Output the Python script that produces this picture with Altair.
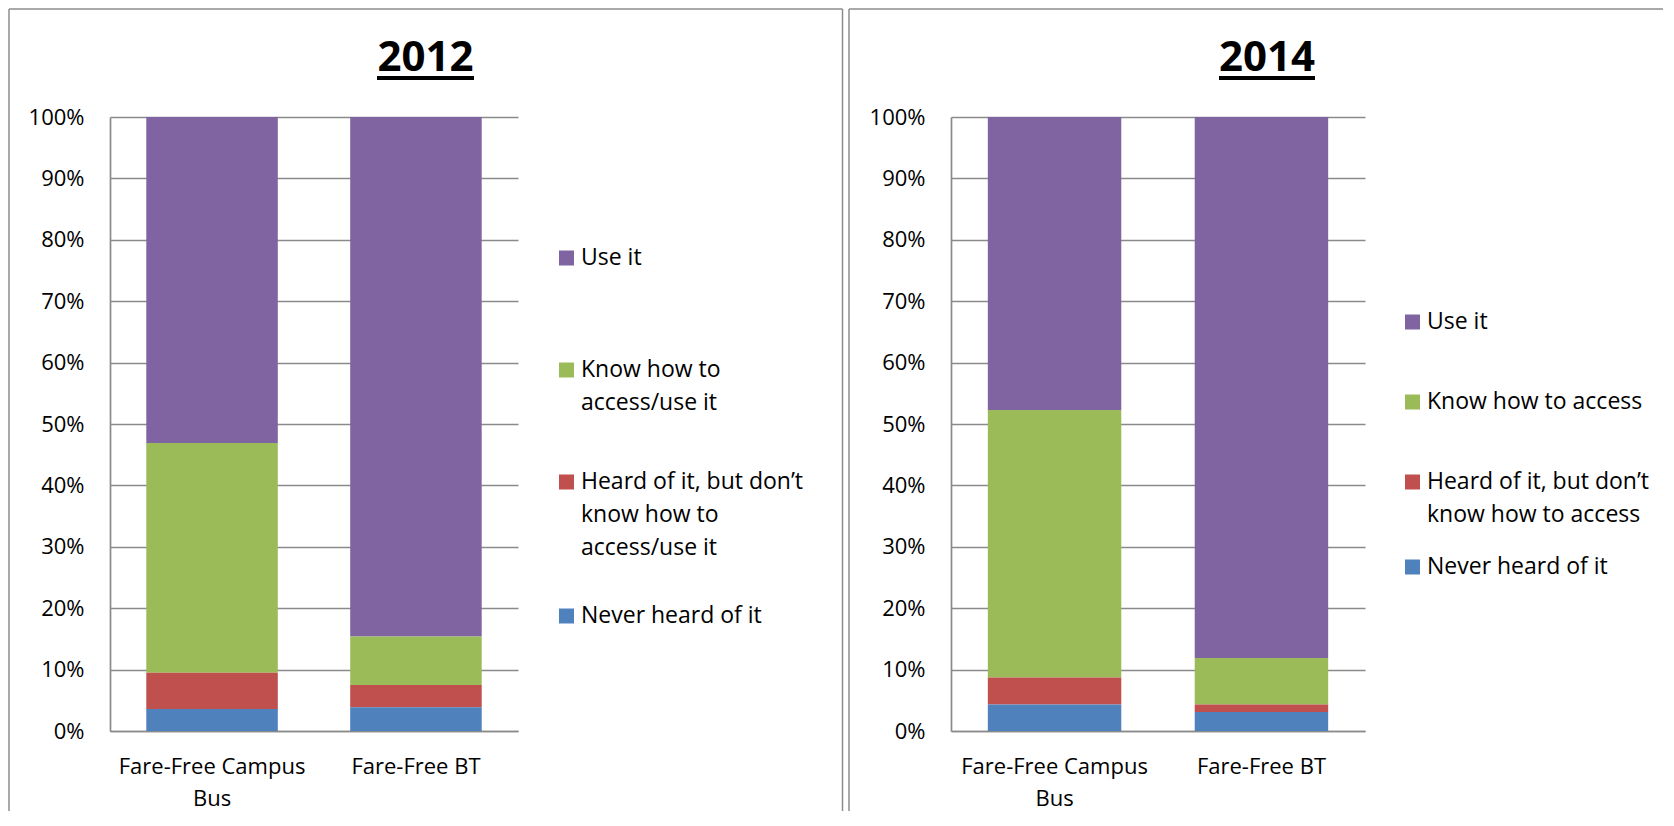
import json
import altair as alt
import pandas as pd

# ---------------- data ----------------
CATEGORIES = ["Fare-Free Campus Bus", "Fare-Free BT"]

SERIES_2012 = [
    "Use it",
    "Know how to access/use it",
    "Heard of it, but don’t know how to access/use it",
    "Never heard of it",
]
USE_2012 = [53.1, 84.6]
KNOW_2012 = [37.4, 7.9]
HEARD_2012 = [5.9, 3.65]
NEVER_2012 = [3.6, 3.85]

SERIES_2014 = [
    "Use it",
    "Know how to access",
    "Heard of it, but don’t know how to access",
    "Never heard of it",
]
USE_2014 = [47.7, 88.1]
KNOW_2014 = [43.6, 7.6]
HEARD_2014 = [4.4, 1.2]
NEVER_2014 = [4.3, 3.1]

# line breaks used for the wrapped labels
LEGEND_LINES = {
    "Know how to access/use it": ["Know how to", "access/use it"],
    "Heard of it, but don’t know how to access/use it": ["Heard of it, but don’t", "know how to", "access/use it"],
    "Heard of it, but don’t know how to access": ["Heard of it, but don’t", "know how to access"],
}
X_LABEL_LINES = {"Fare-Free Campus Bus": ["Fare-Free Campus", "Bus"]}

COLORS = ["#8064A2", "#9BBB59", "#C0504D", "#4F81BD"]  # Use, Know, Heard, Never
GRID = "#8a8a8a"
BORDER = "#8c8c8c"
FONT = "Open Sans"


def wrap_expr(mapping, field):
    expr = field
    for key, lines in mapping.items():
        expr = f"{field} == {json.dumps(key)} ? {json.dumps(lines)} : ({expr})"
    return expr


def make_df(series, values):
    rows = []
    for s_idx, (name, vals) in enumerate(zip(series, values)):
        for cat, v in zip(CATEGORIES, vals):
            rows.append({"category": cat, "series": name, "value": v / 100.0,
                         "order": len(series) - 1 - s_idx})
    return pd.DataFrame(rows)


def panel(year, series, values, width, legend_x, legend_y, clip_h,
          title_x, ul_x1, ul_x2, border_left, border_right):
    df = make_df(series, values)
    bars = alt.Chart(df).mark_bar().encode(
        x=alt.X("category:N", sort=CATEGORIES, title=None,
                scale=alt.Scale(paddingInner=0.355, paddingOuter=0.178),
                axis=alt.Axis(labelAngle=0, labelExpr=wrap_expr(X_LABEL_LINES, "datum.value"),
                              labelFont=FONT, labelFontSize=22, labelColor="black",
                              labelPadding=25, labelLineHeight=32, labelLimit=600,
                              ticks=False, domainColor=GRID, domainWidth=1.7, grid=False)),
        y=alt.Y("value:Q", stack="zero", title=None,
                scale=alt.Scale(domain=[0, 1], nice=False),
                axis=alt.Axis(format=".0%", values=[i / 10 for i in range(11)],
                              labelFont=FONT, labelFontSize=22, labelColor="black",
                              labelPadding=26, ticks=False, domainColor=GRID,
                              domainWidth=1.7, gridColor=GRID, gridWidth=1.7)),
        color=alt.Color("series:N", scale=alt.Scale(domain=series, range=COLORS),
                        legend=alt.Legend(title=None, orient="none", legendX=legend_x,
                                          legendY=legend_y, symbolType="square",
                                          symbolSize=225, symbolStrokeWidth=0,
                                          labelFont=FONT, labelFontSize=23,
                                          labelColor="black",
                                          labelOffset=3, labelLimit=600,
                                          labelExpr=wrap_expr(LEGEND_LINES, "datum.label"),
                                          clipHeight=clip_h, rowPadding=0, padding=0)),
        order=alt.Order("order:Q", sort="ascending"),
    ).properties(width=width, height=614)

    one = pd.DataFrame({"year": [year]})
    title = alt.Chart(one).mark_text(font=FONT, fontSize=42, fontWeight="bold",
                                     color="black", align="center",
                                     baseline="alphabetic").encode(
        text="year:N", x=alt.value(title_x), y=alt.value(-46))
    underline = alt.Chart(one).mark_rule(color="black", strokeWidth=4).encode(
        x=alt.value(ul_x1), x2=alt.value(ul_x2), y=alt.value(-39))

    layers = [bars, title, underline]
    left_rule = alt.Chart(one).mark_rule(color=BORDER, strokeWidth=1.5).encode(
        x=alt.value(border_left), y=alt.value(-108), y2=alt.value(694))
    top_rule = alt.Chart(one).mark_rule(color=BORDER, strokeWidth=1.5).encode(
        x=alt.value(border_left), x2=alt.value(border_right), y=alt.value(-108))
    layers += [left_rule, top_rule]
    return alt.layer(*layers), one


left, one_l = panel("2012", SERIES_2012, [USE_2012, KNOW_2012, HEARD_2012, NEVER_2012],
                    408, 445, 85, 112, 315.5, 267, 364, -101, 732.5)
right_rule_l = alt.Chart(one_l).mark_rule(color=BORDER, strokeWidth=1.5).encode(
    x=alt.value(732.5), y=alt.value(-108), y2=alt.value(694))
left = alt.layer(left, right_rule_l)

right, _ = panel("2014", SERIES_2014, [USE_2014, KNOW_2014, HEARD_2014, NEVER_2014],
                 414, 450, 165, 80, 316, 268, 364, -102, 712)

chart = alt.hconcat(left, right, spacing=4).resolve_scale(
    color="independent").resolve_legend(color="independent").properties(
    padding=0).configure(style={"guide-label": {"lineHeight": 33}},
                         view=alt.ViewConfig(strokeWidth=0))

chart.save("out.html", embed_options={"renderer": "svg", "actions": False})
